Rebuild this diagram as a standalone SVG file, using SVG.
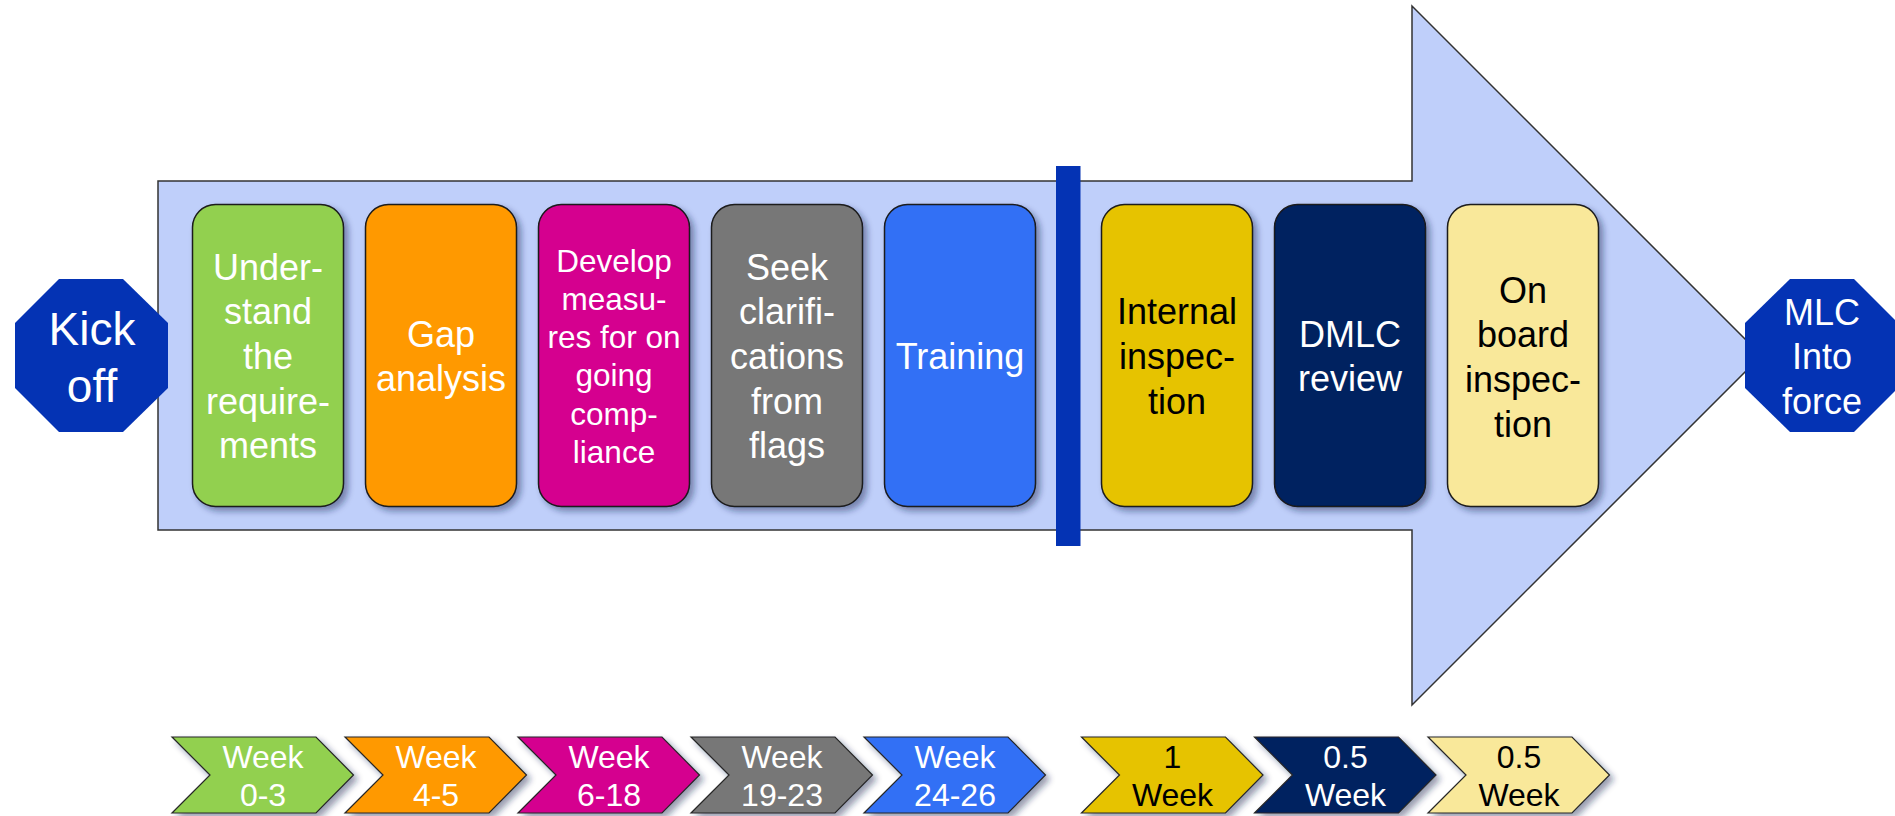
<svg xmlns="http://www.w3.org/2000/svg" width="1895" height="816" viewBox="0 0 1895 816">
  <defs>
    <filter id="shadow" x="-20%" y="-20%" width="150%" height="150%">
      <feDropShadow dx="4" dy="4" stdDeviation="3" flood-color="#1a2550" flood-opacity="0.45"/>
    </filter>
    <style>
      .t { font-family: "Liberation Sans", Arial, sans-serif; text-anchor: middle; }
      .box { stroke: #1a1a1a; stroke-width: 1.5; filter: url(#shadow); }
      .chev { stroke: #262626; stroke-width: 1.2; filter: url(#shadow); }
      .big { font-size: 36px; }
      .mid { font-size: 31.5px; }
      .wk { font-size: 32px; }
      .w { fill: #ffffff; }
      .k { fill: #000000; }
      .oct { fill: #0433B4; }
    </style>
  </defs>
  <rect width="1895" height="816" fill="#ffffff"/>

  <g id="timeline-arrow">
    <path d="M158,181 H1412 V6 L1761.5,355.5 L1412,705 V530 H158 Z" fill="#BFCFFA" stroke="#333333" stroke-width="1.5"/>
  </g>

  <g id="connectors"></g>

  <g id="divider">
    <rect x="1056" y="166" width="24.5" height="380" fill="#0433B4"/>
  </g>

  <g id="kick-off">
    <polygon class="oct" points="59,279 123,279 168,323 168,388 123,432 59,432 15,388 15,323"/>
    <text class="t w" font-size="46" x="92" y="345">Kick</text>
    <text class="t w" font-size="46" x="92" y="402">off</text>
  </g>

  <g id="mlc-into-force">
    <polygon class="oct" points="1790,279 1854,279 1898,323 1898,388 1854,432 1790,432 1745,388 1745,323"/>
    <text class="t w" font-size="36" x="1822" y="324.5">MLC</text>
    <text class="t w" font-size="36" x="1822" y="369">Into</text>
    <text class="t w" font-size="36" x="1822" y="414">force</text>
  </g>

  <g id="understand">
    <rect class="box" x="192.5" y="204.5" width="151" height="302" rx="23" fill="#92D050"/>
    <text class="t big w" x="268" y="279.5">Under-</text>
    <text class="t big w" x="268" y="324.2">stand</text>
    <text class="t big w" x="268" y="368.9">the</text>
    <text class="t big w" x="268" y="413.6">require-</text>
    <text class="t big w" x="268" y="458.3">ments</text>
  </g>

  <g id="gap-analysis">
    <rect class="box" x="365.5" y="204.5" width="151" height="302" rx="23" fill="#FF9900"/>
    <text class="t big w" x="441" y="346.5">Gap</text>
    <text class="t big w" x="441" y="391.2">analysis</text>
  </g>

  <g id="develop-measures">
    <rect class="box" x="538.5" y="204.5" width="151" height="302" rx="23" fill="#D5008F"/>
    <text class="t mid w" x="614" y="271.5">Develop</text>
    <text class="t mid w" x="614" y="309.8">measu-</text>
    <text class="t mid w" x="614" y="348.1">res for on</text>
    <text class="t mid w" x="614" y="386.4">going</text>
    <text class="t mid w" x="614" y="424.7">comp-</text>
    <text class="t mid w" x="614" y="463">liance</text>
  </g>

  <g id="seek-clarifications">
    <rect class="box" x="711.5" y="204.5" width="151" height="302" rx="23" fill="#777777"/>
    <text class="t big w" x="787" y="279.5">Seek</text>
    <text class="t big w" x="787" y="324.2">clarifi-</text>
    <text class="t big w" x="787" y="368.9">cations</text>
    <text class="t big w" x="787" y="413.6">from</text>
    <text class="t big w" x="787" y="458.3">flags</text>
  </g>

  <g id="training">
    <rect class="box" x="884.5" y="204.5" width="151" height="302" rx="23" fill="#3370F5"/>
    <text class="t big w" x="960" y="368.9">Training</text>
  </g>

  <g id="internal-inspection">
    <rect class="box" x="1101.5" y="204.5" width="151" height="302" rx="23" fill="#E6C300"/>
    <text class="t big k" x="1177" y="324.2">Internal</text>
    <text class="t big k" x="1177" y="368.9">inspec-</text>
    <text class="t big k" x="1177" y="413.6">tion</text>
  </g>

  <g id="dmlc-review">
    <rect class="box" x="1274.5" y="204.5" width="151" height="302" rx="23" fill="#002060"/>
    <text class="t big w" x="1350" y="346.5">DMLC</text>
    <text class="t big w" x="1350" y="391.2">review</text>
  </g>

  <g id="on-board-inspection">
    <rect class="box" x="1447.5" y="204.5" width="151" height="302" rx="23" fill="#F9E89A"/>
    <text class="t big k" x="1523" y="302.5">On</text>
    <text class="t big k" x="1523" y="347.2">board</text>
    <text class="t big k" x="1523" y="391.9">inspec-</text>
    <text class="t big k" x="1523" y="436.6">tion</text>
  </g>

  <g id="week-0-3">
    <polygon class="chev" points="172,737 316,737 353.5,775 316,813 172,813 210,775" fill="#92D050"/>
    <text class="t wk w" x="263" y="768.3">Week</text>
    <text class="t wk w" x="263" y="806">0-3</text>
  </g>
  <g id="week-4-5">
    <polygon class="chev" points="345,737 489,737 526.5,775 489,813 345,813 383,775" fill="#FF9900"/>
    <text class="t wk w" x="436" y="768.3">Week</text>
    <text class="t wk w" x="436" y="806">4-5</text>
  </g>
  <g id="week-6-18">
    <polygon class="chev" points="518,737 662,737 699.5,775 662,813 518,813 556,775" fill="#D5008F"/>
    <text class="t wk w" x="609" y="768.3">Week</text>
    <text class="t wk w" x="609" y="806">6-18</text>
  </g>
  <g id="week-19-23">
    <polygon class="chev" points="691,737 835,737 872.5,775 835,813 691,813 729,775" fill="#777777"/>
    <text class="t wk w" x="782" y="768.3">Week</text>
    <text class="t wk w" x="782" y="806">19-23</text>
  </g>
  <g id="week-24-26">
    <polygon class="chev" points="864,737 1008,737 1045.5,775 1008,813 864,813 902,775" fill="#3370F5"/>
    <text class="t wk w" x="955" y="768.3">Week</text>
    <text class="t wk w" x="955" y="806">24-26</text>
  </g>
  <g id="week-1">
    <polygon class="chev" points="1081.5,737 1225.5,737 1263,775 1225.5,813 1081.5,813 1119.5,775" fill="#E6C300"/>
    <text class="t wk k" x="1172.5" y="768.3">1</text>
    <text class="t wk k" x="1172.5" y="806">Week</text>
  </g>
  <g id="week-0-5-a">
    <polygon class="chev" points="1254.5,737 1398.5,737 1436,775 1398.5,813 1254.5,813 1292.5,775" fill="#002060"/>
    <text class="t wk w" x="1345.5" y="768.3">0.5</text>
    <text class="t wk w" x="1345.5" y="806">Week</text>
  </g>
  <g id="week-0-5-b">
    <polygon class="chev" points="1428,737 1572,737 1609.5,775 1572,813 1428,813 1466,775" fill="#F9E89A"/>
    <text class="t wk k" x="1519" y="768.3">0.5</text>
    <text class="t wk k" x="1519" y="806">Week</text>
  </g>
</svg>
